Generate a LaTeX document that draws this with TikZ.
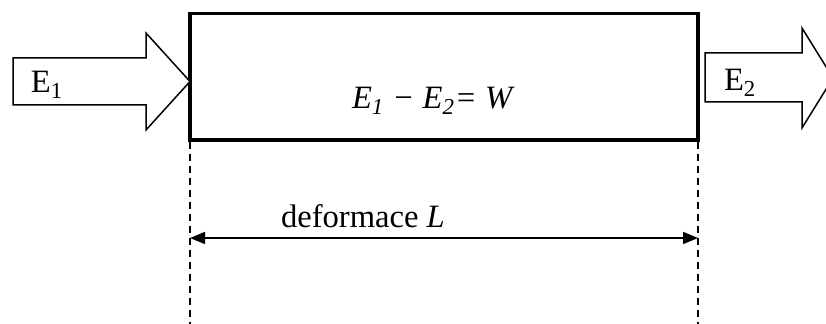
\documentclass[tikz,border=0pt]{standalone}
\usepackage{fontspec}
\setmainfont{Liberation Serif}
\usetikzlibrary{arrows.meta}
\begin{document}
\begin{tikzpicture}[x=0.5pt,y=-0.5pt,
  lbl/.style={inner sep=0pt,outer sep=0pt,anchor=base west,font=\fontsize{16.3}{19}\selectfont},
  blockarrow/.style={draw=black,line width=0.75pt,fill=white,line join=miter},
  boxstyle/.style={draw=black,line width=1.7pt,fill=white},
  dashline/.style={draw=black,line width=0.75pt,dash pattern=on 3.6pt off 2.4pt},
  dimline/.style={draw=black,line width=0.8pt,{Triangle[length=7.5pt,width=6pt]}-{Triangle[length=7.5pt,width=6pt]}}]
\useasboundingbox (0,0) rectangle (826,324);
\clip (0,0) rectangle (826,324);
% dashed extension lines
\coordinate (dlt) at (190,142);
\coordinate (dlb) at (190,324);
\coordinate (drt) at (698,142);
\coordinate (drb) at (698,324);
\draw[dashline] (dlt) -- (dlb);
\draw[dashline] (drt) -- (drb);
% main box
\draw[boxstyle] (190,13.5) rectangle (698,140);
% left block arrow
\draw[blockarrow] (13,58) -- (146,58) -- (146,33) -- (190,81.5) -- (146,130) -- (146,105) -- (13,105) -- cycle;
% right block arrow
\draw[blockarrow] (705,53) -- (802,53) -- (802,28) -- (833,78) -- (802,128) -- (802,102) -- (705,102) -- cycle;
% labels
\node[lbl] (e1) at (31,93) {E\textsubscript{1}};
\node[lbl] (e2) at (724,91) {E\textsubscript{2}};
\node[lbl] (eq) at (352,109) {\itshape E\textsubscript{1} − E\textsubscript{2}= W};
\node[lbl] (def) at (281,228) {deformace \textit{L}};
% dimension line
\coordinate (dl) at (190,238);
\coordinate (dr) at (698,238);
\draw[dimline] (dl) -- (dr);
\end{tikzpicture}
\end{document}
